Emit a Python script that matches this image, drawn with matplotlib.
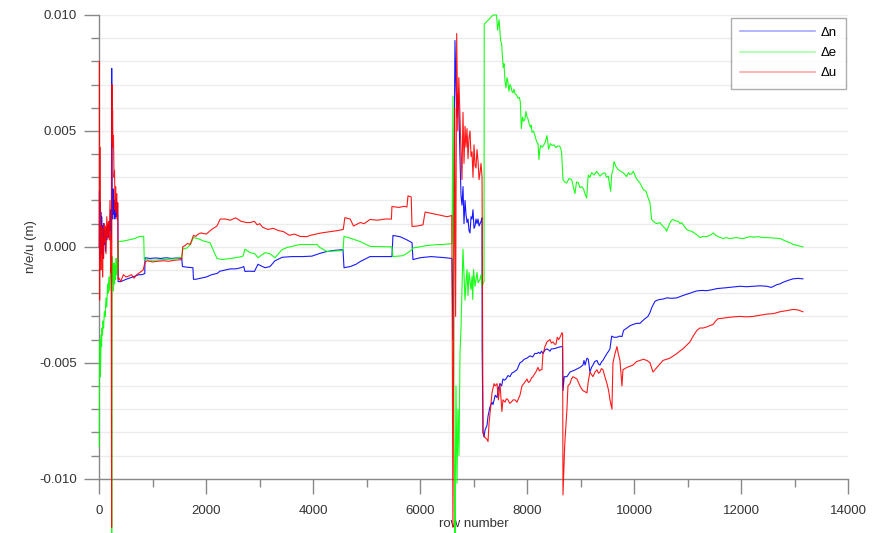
import numpy as np
import matplotlib
matplotlib.use("Agg")
import matplotlib.pyplot as plt
from matplotlib.ticker import MultipleLocator, FormatStrFormatter
from matplotlib.lines import Line2D

plt.rcParams['font.family'] = ['Liberation Sans', 'DejaVu Sans']
plt.rcParams['axes.unicode_minus'] = False

# (row, offset in mm)
dn_pts = [
    (0, 0.0), (3, 2.4), (8, -0.6), (14, 1.9), (20, 0.3), (28, 1.5), (36, -0.3), (44, 1.3),
    (52, 0.2), (60, 0.9), (70, -0.5), (80, 1.0), (90, 0.1), (100, 0.7), (115, -0.2),
    (130, 0.8), (145, 0.3), (160, 1.0), (175, 0.4), (190, 1.1), (205, 0.7), (215, 1.6),
    (225, 0.3), (232, 7.7), (240, 2.2), (250, 1.2), (260, 2.5), (270, 1.4), (280, 2.0),
    (290, 1.2), (300, 1.9), (310, 1.3), (320, 2.1), (330, 1.3), (340, 1.9), (348, 1.2),
    (352, -1.5), (400, -1.5), (450, -1.45), (500, -1.4), (560, -1.35), (620, -1.3),
    (680, -1.25), (740, -1.2), (800, -1.2), (850, -1.15), (855, -0.47), (950, -0.5),
    (1050, -0.48), (1150, -0.5), (1250, -0.47), (1350, -0.5), (1450, -0.48), (1540, -0.5),
    (1555, -0.85), (1650, -0.88), (1750, -0.9), (1760, -1.4), (1800, -1.4), (1900, -1.35),
    (2000, -1.3), (2100, -1.2), (2200, -1.15), (2256, -1.05), (2350, -1.0), (2450, -0.95),
    (2550, -0.95), (2650, -0.9), (2700, -0.85), (2723, -1.06), (2800, -1.05), (2900, -1.06),
    (2966, -0.75), (3050, -0.85), (3100, -0.9), (3190, -0.85), (3284, -0.6), (3420, -0.45),
    (3600, -0.42), (3800, -0.42), (3975, -0.4), (4125, -0.28), (4256, -0.2), (4400, -0.15),
    (4555, -0.12), (4574, -0.9), (4690, -0.85), (4800, -0.75), (4880, -0.63), (5060, -0.42),
    (5250, -0.42), (5470, -0.42), (5489, 0.49), (5620, 0.44), (5750, 0.3), (5845, 0.18),
    (5863, -0.55), (5994, -0.47), (6200, -0.42), (6424, -0.46), (6592, -0.5),
    (6611, -4.0), (6630, 3.0), (6648, 8.9), (6667, 6.9), (6686, 5.6), (6704, 6.6),
    (6723, 5.8), (6742, 3.8), (6761, 2.2), (6779, 1.8), (6798, 2.6), (6817, 1.0),
    (6836, 2.0), (6854, 1.4), (6873, 1.05), (6892, 1.2), (6910, 0.7), (6929, 0.6),
    (6948, 1.3), (6967, 1.2), (6985, 1.6), (7004, 0.8), (7023, 0.9), (7041, 1.2),
    (7060, 1.0), (7079, 1.2), (7098, 0.9), (7116, 1.0), (7135, 1.1), (7154, 1.25),
    (7156, -4.4), (7160, -5.2), (7172, -8.0), (7191, -8.2), (7210, -7.9), (7247, -7.7),
    (7266, -7.3), (7303, -6.9), (7340, -6.7), (7359, -6.8), (7400, -6.4), (7434, -6.5),
    (7460, -6.1), (7490, -5.9), (7520, -6.0), (7545, -5.7), (7575, -5.75), (7600, -5.7),
    (7640, -5.55), (7676, -5.6), (7710, -5.45), (7750, -5.4), (7780, -5.35), (7807, -5.3),
    (7835, -5.15), (7863, -5.0), (7900, -4.95), (7940, -4.85), (7994, -4.8), (8050, -4.7),
    (8100, -4.75), (8140, -4.6), (8181, -4.6), (8210, -4.55), (8237, -4.6), (8265, -4.5),
    (8293, -4.6), (8330, -4.45), (8367, -4.4), (8400, -4.45), (8424, -4.5), (8450, -4.4),
    (8480, -4.4), (8520, -4.38), (8560, -4.35), (8600, -4.32), (8648, -4.3), (8660, -4.3),
    (8667, -6.2), (8690, -5.6), (8741, -5.6), (8797, -5.4), (8850, -5.35), (8900, -5.3),
    (8940, -5.25), (8984, -5.2), (9040, -5.1), (9060, -4.9), (9080, -5.1), (9115, -4.8),
    (9140, -4.85), (9171, -5.4), (9200, -5.2), (9227, -5.1), (9260, -4.95), (9302, -4.9),
    (9330, -5.05), (9358, -5.1), (9390, -4.95), (9414, -4.9), (9450, -4.75), (9489, -4.6),
    (9520, -4.5), (9545, -4.4), (9577, -3.85), (9620, -3.9), (9676, -3.9), (9720, -3.85),
    (9769, -3.87), (9800, -3.6), (9863, -3.5), (9920, -3.4), (9975, -3.35), (10040, -3.3),
    (10106, -3.3), (10150, -3.2), (10199, -3.1), (10255, -3.0), (10290, -2.85),
    (10330, -2.6), (10386, -2.35), (10430, -2.3), (10479, -2.27), (10540, -2.25),
    (10610, -2.2), (10700, -2.22), (10797, -2.2), (10850, -2.15), (10909, -2.1),
    (10970, -2.05), (11040, -2.0), (11100, -1.95), (11171, -1.9), (11260, -1.88),
    (11358, -1.89), (11450, -1.85), (11545, -1.8), (11640, -1.78), (11732, -1.76),
    (11850, -1.73), (11975, -1.7), (12100, -1.72), (12218, -1.7), (12350, -1.68),
    (12479, -1.7), (12560, -1.75), (12620, -1.68), (12666, -1.63), (12720, -1.6),
    (12778, -1.53), (12870, -1.45), (12965, -1.38), (13060, -1.36), (13152, -1.38),
]

de_pts = [
    (0, -8.6), (5, -4.4), (10, -5.5), (15, -4.0), (20, -5.6), (28, -4.6), (35, -3.8),
    (42, -4.3), (50, -3.5), (60, -3.8), (70, -3.2), (80, -3.5), (95, -2.8), (110, -3.0),
    (125, -2.2), (140, -2.6), (155, -1.6), (165, -2.0), (180, -1.3), (195, -1.9),
    (210, -0.9), (220, -1.3), (228, -0.6), (232, -12.5), (236, -0.4), (245, -1.5),
    (255, -0.8), (265, -1.9), (275, -0.7), (285, -1.6), (295, -0.8), (305, -1.4),
    (315, -0.5), (325, -1.2), (335, -0.7), (348, -0.9), (352, 0.23), (450, 0.25),
    (550, 0.3), (650, 0.35), (760, 0.45), (830, 0.45), (840, -0.55), (1000, -0.58),
    (1200, -0.55), (1400, -0.52), (1540, -0.45), (1560, -0.1), (1640, -0.05), (1700, 0.1),
    (1760, 0.4), (1850, 0.35), (1950, 0.25), (2069, 0.18), (2200, -0.5), (2300, -0.55),
    (2450, -0.5), (2600, -0.45), (2686, -0.4), (2723, -0.1), (2817, -0.25), (2910, -0.3),
    (2966, -0.47), (3097, -0.25), (3190, -0.3), (3284, -0.47), (3415, -0.12),
    (3508, -0.03), (3750, 0.1), (4069, 0.1), (4125, -0.03), (4256, -0.2), (4555, -0.16),
    (4574, 0.45), (4686, 0.38), (4873, 0.23), (5060, 0.02), (5470, 0.0), (5489, -0.42),
    (5676, -0.38), (5770, -0.25), (5845, -0.12), (5863, -0.05), (5994, 0.0), (6100, 0.05),
    (6312, 0.1), (6424, 0.1), (6592, 0.14),
    (6611, 6.5), (6630, -8.0), (6648, -12.5), (6667, -6.0), (6686, -10.2), (6704, -7.0),
    (6723, -9.0), (6742, -4.6), (6761, -3.5), (6779, -1.8), (6798, -0.1), (6810, -0.8),
    (6836, -2.3), (6854, -1.55), (6873, -0.98), (6892, -2.1), (6910, -1.1), (6948, -1.84),
    (6967, -1.27), (6980, -2.27), (6995, -0.98), (7023, -1.7), (7060, -1.1), (7079, -1.55),
    (7116, -1.4), (7135, -1.2), (7154, -1.7), (7191, -1.5), (7195, 9.6), (7359, 10.0),
    (7425, 10.0), (7445, 9.35), (7472, 9.8), (7501, 8.9), (7520, 8.77), (7535, 8.2),
    (7551, 7.73), (7565, 7.9), (7583, 7.15), (7601, 6.86), (7620, 7.3), (7635, 7.15),
    (7658, 6.71), (7675, 7.0), (7695, 6.9), (7715, 6.7), (7732, 6.64), (7750, 6.8),
    (7770, 6.6), (7800, 6.55), (7826, 6.41), (7850, 6.45), (7869, 6.27), (7889, 5.1),
    (7910, 5.6), (7932, 5.42), (7955, 5.5), (7975, 5.84), (7995, 5.6), (8012, 5.53),
    (8035, 5.3), (8059, 5.16), (8075, 5.25), (8087, 4.94), (8115, 5.0), (8143, 4.8),
    (8160, 4.65), (8181, 4.5), (8200, 4.45), (8218, 3.77), (8235, 4.2), (8250, 4.37),
    (8280, 4.3), (8311, 4.4), (8340, 4.55), (8367, 4.8), (8380, 4.6), (8397, 4.21),
    (8430, 4.45), (8461, 4.37), (8500, 4.4), (8536, 4.28), (8570, 4.35), (8601, 4.35),
    (8625, 4.25), (8642, 4.06), (8667, 2.9), (8700, 2.8), (8736, 2.75), (8780, 2.95),
    (8829, 2.9), (8860, 2.6), (8891, 2.3), (8920, 2.8), (8953, 2.77), (8985, 2.55),
    (9016, 2.6), (9050, 2.5), (9078, 2.3), (9109, 2.1), (9139, 3.1), (9170, 3.0),
    (9203, 3.2), (9250, 3.1), (9296, 3.26), (9330, 3.15), (9358, 3.05), (9400, 3.15),
    (9451, 3.2), (9480, 3.0), (9513, 3.05), (9558, 2.4), (9577, 3.12), (9600, 3.3),
    (9620, 3.68), (9660, 3.45), (9700, 3.33), (9750, 3.25), (9793, 3.2), (9830, 3.1),
    (9857, 3.03), (9890, 3.2), (9919, 3.12), (9950, 3.15), (9981, 3.26), (10010, 3.1),
    (10031, 2.98), (10070, 2.85), (10106, 2.75), (10140, 2.6), (10168, 2.47),
    (10218, 2.4), (10261, 2.1), (10293, 1.9), (10324, 1.18), (10355, 1.1), (10386, 1.04),
    (10430, 1.0), (10479, 1.05), (10510, 0.95), (10541, 0.88), (10575, 0.8), (10604, 0.67),
    (10635, 0.85), (10666, 1.04), (10700, 1.15), (10728, 1.18), (10775, 1.12),
    (10822, 1.1), (10855, 1.0), (10885, 1.05), (10930, 0.9), (10978, 0.75), (11020, 0.7),
    (11072, 0.67), (11120, 0.6), (11165, 0.53), (11200, 0.45), (11227, 0.4), (11290, 0.45),
    (11352, 0.44), (11420, 0.5), (11476, 0.6), (11520, 0.5), (11569, 0.44), (11610, 0.4),
    (11663, 0.36), (11720, 0.4), (11788, 0.36), (11850, 0.38), (11913, 0.4), (11975, 0.37),
    (12036, 0.36), (12100, 0.4), (12162, 0.44), (12240, 0.42), (12317, 0.44),
    (12400, 0.4), (12474, 0.4), (12600, 0.38), (12722, 0.36), (12780, 0.3), (12847, 0.23),
    (12910, 0.18), (12971, 0.1), (13060, 0.05), (13152, 0.0),
]

du_pts = [
    (0, 0.0), (3, 8.0), (6, -2.3), (10, 4.3), (15, -0.4), (22, 1.2), (30, -1.0), (38, 0.9),
    (45, -0.6), (55, 0.8), (62, -1.3), (70, 0.4), (80, -0.5), (90, 1.0), (100, 0.2),
    (110, 0.9), (125, -0.3), (140, 1.3), (155, 0.4), (170, 1.1), (185, 0.3), (200, 2.0),
    (212, -1.1), (222, 0.5), (230, -12.1), (236, 7.0), (242, 4.5), (248, 5.9), (255, 4.3),
    (265, 4.8), (275, 3.0), (285, 3.3), (295, 1.6), (305, 2.6), (315, 1.5), (325, 2.3),
    (335, 1.2), (345, 1.9), (352, -1.4), (370, -1.35), (400, -1.5), (450, -1.2),
    (500, -1.3), (560, -1.25), (600, -1.2), (650, -1.35), (700, -1.2), (760, -1.1),
    (820, -1.0), (855, -0.65), (900, -0.6), (1000, -0.65), (1100, -0.62), (1200, -0.6),
    (1300, -0.62), (1400, -0.58), (1540, -0.55), (1560, 0.0), (1600, 0.05), (1650, 0.15),
    (1700, 0.1), (1760, 0.5), (1800, 0.45), (1850, 0.55), (1900, 0.6), (2000, 0.55),
    (2100, 0.75), (2200, 0.9), (2260, 1.2), (2350, 1.2), (2450, 1.15), (2550, 1.25),
    (2650, 1.1), (2750, 1.05), (2820, 1.05), (2900, 1.1), (2950, 0.95), (3000, 1.0),
    (3050, 0.85), (3150, 0.75), (3250, 0.8), (3350, 0.7), (3440, 0.66), (3550, 0.5),
    (3650, 0.55), (3750, 0.45), (3880, 0.44), (3950, 0.5), (4050, 0.55), (4150, 0.6),
    (4300, 0.65), (4450, 0.7), (4560, 0.75), (4590, 1.26), (4690, 1.2), (4750, 0.9),
    (4880, 1.05), (4950, 1.0), (5060, 1.18), (5200, 1.15), (5350, 1.2), (5460, 1.2),
    (5470, 1.74), (5600, 1.7), (5700, 1.75), (5750, 1.72), (5770, 2.2), (5830, 2.15),
    (5845, 0.88), (5950, 0.9), (6050, 0.95), (6090, 1.5), (6200, 1.45), (6300, 1.4),
    (6400, 1.35), (6500, 1.3), (6590, 1.35),
    (6610, -12.1), (6640, 6.0), (6660, -3.0), (6680, 9.2), (6700, 5.0), (6720, 7.3),
    (6742, 5.5), (6761, 4.1), (6779, 2.9), (6798, 5.8), (6817, 3.6), (6836, 5.2),
    (6854, 4.3), (6873, 5.1), (6892, 3.8), (6910, 4.7), (6929, 5.0), (6948, 3.9),
    (6967, 4.1), (6985, 3.0), (7004, 4.4), (7023, 3.5), (7041, 3.4), (7060, 4.2),
    (7079, 3.7), (7098, 2.9), (7116, 3.2), (7135, 3.6), (7154, 3.0), (7172, -8.0),
    (7200, -8.2), (7247, -8.3), (7266, -8.4), (7285, -7.6), (7303, -7.2), (7340, -6.3),
    (7378, -5.9), (7400, -6.0), (7434, -5.9), (7460, -6.6), (7490, -5.9), (7525, -7.1),
    (7545, -6.6), (7583, -6.7), (7610, -6.55), (7640, -6.6), (7670, -6.75), (7700, -6.7),
    (7735, -6.6), (7770, -6.6), (7807, -6.7), (7835, -6.55), (7863, -6.4), (7900, -6.0),
    (7950, -5.85), (7994, -5.7), (8020, -5.85), (8050, -5.8), (8080, -5.65), (8106, -5.6),
    (8130, -5.5), (8160, -5.4), (8199, -5.2), (8225, -5.35), (8250, -5.3), (8274, -5.3),
    (8293, -4.6), (8310, -4.5), (8330, -4.3), (8350, -4.2), (8367, -4.1), (8395, -4.05),
    (8424, -4.0), (8450, -4.15), (8480, -4.1), (8510, -4.2), (8536, -4.2), (8560, -3.9),
    (8585, -4.0), (8611, -3.9), (8630, -3.8), (8648, -3.7), (8660, -3.75), (8667, -10.7),
    (8700, -8.5), (8741, -7.0), (8760, -6.0), (8797, -5.9), (8825, -5.7), (8853, -5.6),
    (8890, -5.65), (8928, -5.7), (8955, -5.85), (8984, -6.0), (9010, -6.1), (9040, -6.2),
    (9080, -6.25), (9115, -6.3), (9140, -5.8), (9171, -5.4), (9200, -5.5), (9227, -5.6),
    (9265, -5.4), (9302, -5.3), (9330, -5.45), (9358, -5.4), (9385, -5.25), (9414, -5.3),
    (9450, -5.6), (9489, -5.9), (9520, -6.2), (9545, -6.6), (9582, -7.0), (9601, -5.0),
    (9620, -4.8), (9640, -4.6), (9676, -4.3), (9700, -4.6), (9732, -4.9), (9769, -6.0),
    (9788, -5.3), (9825, -5.25), (9863, -5.2), (9920, -5.15), (9975, -5.1), (10040, -4.95),
    (10106, -4.9), (10170, -4.85), (10236, -4.9), (10293, -5.0), (10349, -5.4),
    (10385, -5.3), (10423, -5.2), (10480, -5.05), (10535, -4.9), (10600, -4.85),
    (10666, -4.8), (10730, -4.7), (10797, -4.6), (10850, -4.5), (10909, -4.4),
    (10975, -4.25), (11040, -4.1), (11100, -3.85), (11171, -3.6), (11227, -3.5),
    (11290, -3.5), (11358, -3.45), (11410, -3.4), (11470, -3.35), (11520, -3.2),
    (11564, -3.1), (11650, -3.08), (11732, -3.05), (11850, -3.02), (11975, -3.0),
    (12100, -3.02), (12218, -3.0), (12350, -2.95), (12479, -2.9), (12600, -2.88),
    (12722, -2.8), (12850, -2.75), (12965, -2.7), (13060, -2.72), (13152, -2.8),
]

series = [
    ('Δn', dn_pts, '#0000ff'),
    ('Δe', de_pts, '#00ff00'),
    ('Δu', du_pts, '#ff0000'),
]

fig = plt.figure(figsize=(8.77, 5.33), dpi=100)
ax = fig.add_axes([99.3 / 877, 1 - 478.7 / 533, 749 / 877, 463.7 / 533])

handles = []
for name, pts, col in series:
    rows = np.array([p[0] for p in pts], dtype=float)
    vals = np.array([p[1] for p in pts]) / 1000.0
    ax.plot(rows, vals, color=col, lw=0.8, alpha=0.9, clip_on=False, zorder=3)
    handles.append(Line2D([], [], color=col, lw=1.2, alpha=0.35, label=name))

ax.set_xlim(0, 14000)
ax.set_ylim(-0.010, 0.010)

ax.xaxis.set_major_locator(MultipleLocator(2000))
ax.xaxis.set_minor_locator(MultipleLocator(1000))
ax.yaxis.set_major_locator(MultipleLocator(0.005))
ax.yaxis.set_minor_locator(MultipleLocator(0.001))
ax.yaxis.set_major_formatter(FormatStrFormatter('%.3f'))

ax.grid(True, which='both', axis='y', color='#ececec', lw=1.0, zorder=0)
ax.set_axisbelow(True)

for s in ['top', 'right']:
    ax.spines[s].set_visible(False)
for s in ['left', 'bottom']:
    ax.spines[s].set_color('#888888')
    ax.spines[s].set_linewidth(1.0)

ax.tick_params(which='major', direction='out', length=11, width=1.0, color='#888888',
               labelsize=9.5, labelcolor='#333333')
ax.tick_params(which='minor', direction='out', length=6, width=1.0, color='#888888')
ax.tick_params(axis='x', which='major', pad=8)
ax.tick_params(axis='y', which='major', pad=5)

ax.set_xlabel('row number', fontsize=9.5, color='#333333', labelpad=1)
ax.set_ylabel('n/e/u (m)', fontsize=9.5, color='#333333', labelpad=2)

leg = ax.legend(handles=handles, loc='upper right', fontsize=9.5, frameon=True,
                fancybox=False, edgecolor='#999999', handlelength=5.7,
                handletextpad=0.4, borderaxespad=0.2, borderpad=0.7,
                labelspacing=0.6)
leg.get_frame().set_linewidth(1.0)

fig.savefig('out.png', dpi=100)
